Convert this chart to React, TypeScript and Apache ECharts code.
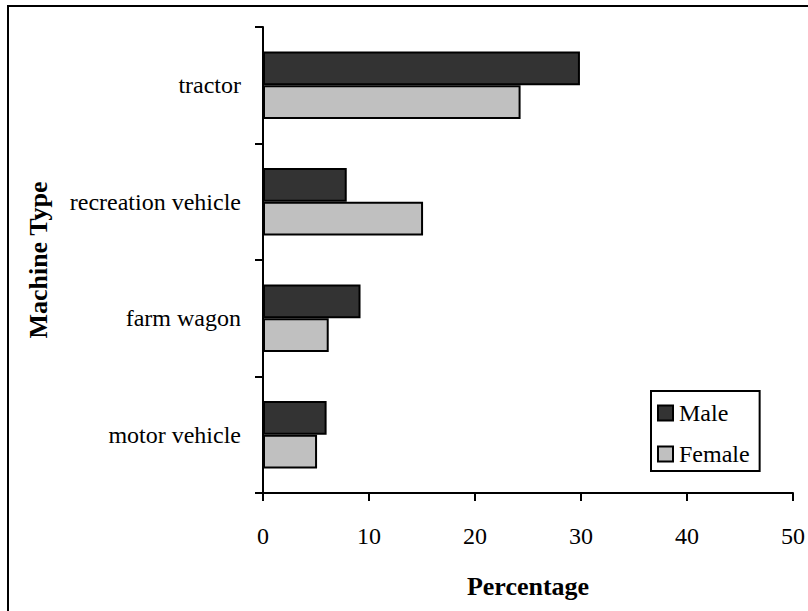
import React, { useEffect, useRef } from "react";
import * as echarts from "echarts";

const categories = ["tractor", "recreation vehicle", "farm wagon", "motor vehicle"];
const maleValues = [29.9, 7.9, 9.2, 6.0];
const femaleValues = [24.3, 15.1, 6.2, 5.1];
const xTicks = [0, 10, 20, 30, 40, 50];

const FONT = "'Liberation Serif', 'Times New Roman', serif";

export default function App() {
  const ref = useRef<HTMLDivElement>(null);
  useEffect(() => {
    if (!ref.current) return;
    const chart = echarts.init(ref.current, undefined, { renderer: "svg" });
    chart.setOption({
      animation: false,
      backgroundColor: "#ffffff",
      textStyle: { fontFamily: FONT, color: "#000" },
      graphic: [
        {
          type: "rect",
          shape: { x: 8, y: 6, width: 820, height: 640 },
          style: { fill: "none", stroke: "#000", lineWidth: 2 },
          silent: true,
        },
      ],
      grid: { left: 263, right: 15, top: 27, bottom: 118, containLabel: false },
      legend: {
        orient: "vertical",
        left: 651,
        top: 391,
        width: 110,
        itemWidth: 15,
        itemHeight: 15,
        itemGap: 17,
        padding: [10, 10, 5, 6],
        borderColor: "#000",
        borderWidth: 2,
        borderRadius: 0,
        icon: "rect",
        textStyle: { fontFamily: FONT, fontSize: 24, color: "#000", padding: [0, 0, 0, 1] },
        data: ["Male", "Female"],
      },
      xAxis: {
        type: "value",
        min: xTicks[0],
        max: xTicks[xTicks.length - 1],
        interval: 10,
        name: "Percentage",
        nameLocation: "middle",
        nameGap: 80,
        nameTextStyle: { fontFamily: FONT, fontSize: 26, fontWeight: "bold", color: "#000" },
        axisLine: { show: true, lineStyle: { color: "#000", width: 2 } },
        axisTick: { show: true, length: 8, lineStyle: { color: "#000", width: 2 } },
        axisLabel: { margin: 31, fontFamily: FONT, fontSize: 24, color: "#000" },
        splitLine: { show: false },
      },
      yAxis: {
        type: "category",
        inverse: true,
        data: categories,
        name: "Machine Type",
        nameLocation: "middle",
        nameGap: 212,
        nameRotate: 90,
        nameTextStyle: { fontFamily: FONT, fontSize: 26, fontWeight: "bold", color: "#000" },
        axisLine: { show: true, lineStyle: { color: "#000", width: 2 } },
        axisTick: { show: true, length: 8, lineStyle: { color: "#000", width: 2 } },
        axisLabel: { margin: 22, fontFamily: FONT, fontSize: 24, color: "#000" },
      },
      series: [
        {
          name: "Male",
          type: "bar",
          data: maleValues,
          barGap: "0%",
          barCategoryGap: "42%",
          itemStyle: { color: "#333333", borderColor: "#000", borderWidth: 2 },
        },
        {
          name: "Female",
          type: "bar",
          data: femaleValues,
          barGap: "0%",
          barCategoryGap: "42%",
          itemStyle: { color: "#c0c0c0", borderColor: "#000", borderWidth: 2 },
        },
      ],
    });
    return () => chart.dispose();
  }, []);
  return (
    <div
      ref={ref}
      style={{ position: "fixed", left: 0, top: 0, width: 808, height: 611, background: "#fff" }}
    />
  );
}
